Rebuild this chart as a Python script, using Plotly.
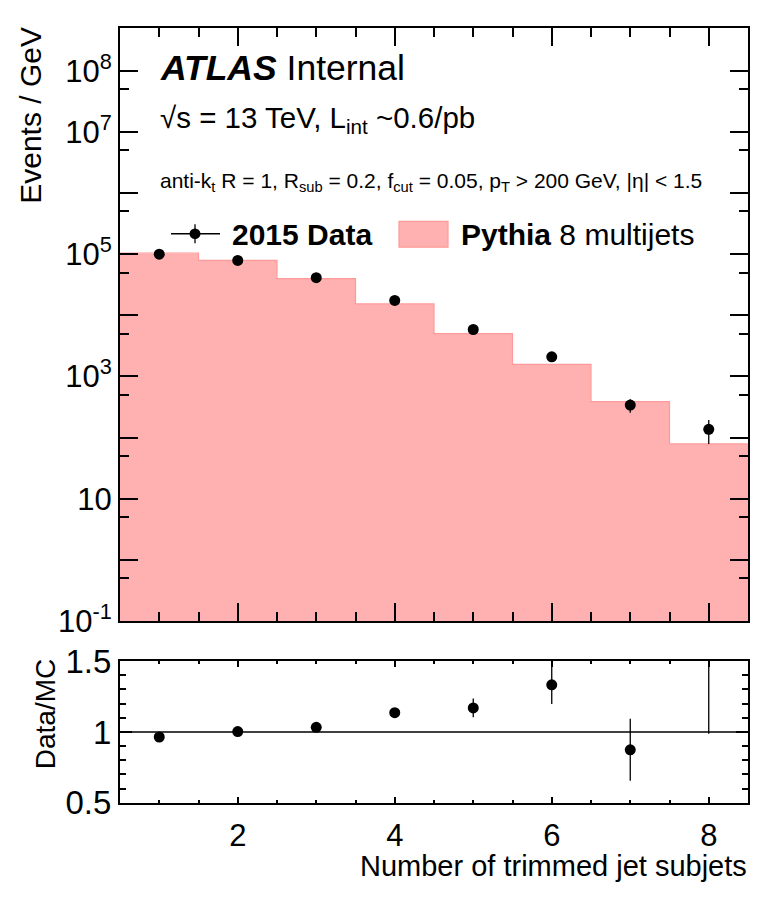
import plotly.graph_objects as go

# Trimmed-jet subjet multiplicity: 2015 data vs Pythia 8 multijet prediction
n_subjets = [1, 2, 3, 4, 5, 6, 7, 8]
data_2015 = [1.00e5, 7.9e4, 4.12e4, 1.75e4, 5.85e3, 2.09e3, 339, 136]
data_err = [320, 280, 200, 130, 330, 212, 85, 58]
pythia_mc = [1.037e5, 7.88e4, 3.99e4, 1.54e4, 5.0e3, 1.568e3, 388, 79]

main_ticks = [-1, 0, 1, 2, 3, 4, 5, 6, 7, 8]
main_ticktext = ["10<sup>-1</sup>", "", "10", "", "10<sup>3</sup>", "",
                 "10<sup>5</sup>", "", "10<sup>7</sup>", "10<sup>8</sup>"]
x_ticks = [2, 4, 6, 8]
ratio_ticks = [0.5, 1, 1.5]
ratio_ticktext = ["0.5", "1", "1.5"]

W, H = 761, 902
FONT = "Liberation Sans, Arial, Helvetica, sans-serif"
FILL = "#ffb0b0"
EDGE = "#ff9a9a"


def px(x):
    return x / W


def py(y):
    return 1 - y / H


ratio = [d / m for d, m in zip(data_2015, pythia_mc)]
ratio_err = [e / m for e, m in zip(data_err, pythia_mc)]

edges = [n - 0.5 for n in n_subjets] + [n_subjets[-1] + 0.5]
step_y = pythia_mc + [pythia_mc[-1]]

fig = go.Figure()

# MC histogram: filled bins plus the outline of the steps
fig.add_trace(go.Bar(x=n_subjets, y=pythia_mc, width=1.0, marker=dict(color=FILL, line=dict(width=0)),
                     xaxis="x", yaxis="y", hoverinfo="skip"))
fig.add_trace(go.Scatter(x=edges, y=step_y, mode="lines", line=dict(color=EDGE, width=1.2, shape="hv"),
                         xaxis="x", yaxis="y", hoverinfo="skip"))

# Data points
fig.add_trace(go.Scatter(x=n_subjets, y=data_2015, mode="markers",
                         marker=dict(color="black", size=11),
                         error_y=dict(type="data", array=data_err, color="black", thickness=1.3, width=0),
                         xaxis="x", yaxis="y"))

# Data / MC ratio
fig.add_trace(go.Scatter(x=n_subjets, y=ratio, mode="markers",
                         marker=dict(color="black", size=11),
                         error_y=dict(type="data", array=ratio_err, color="black", thickness=1.3, width=0),
                         xaxis="x2", yaxis="y2", cliponaxis=True))

x_dom = [px(120), px(748)]
minor_x = [v / 2 for v in range(2, 17) if v % 4 != 0]

axis_common = dict(showline=True, linewidth=2, linecolor="black", mirror="allticks",
                   ticks="inside", tickcolor="black", tickwidth=1.5, showgrid=False, zeroline=False)

fig.update_layout(
    width=W, height=H,
    margin=dict(l=0, r=0, t=0, b=0),
    paper_bgcolor="white", plot_bgcolor="white",
    showlegend=False, bargap=0,
    font=dict(family=FONT, color="black"),
    xaxis=dict(domain=x_dom, anchor="y", range=[0.5, 8.5], tickvals=x_ticks, showticklabels=False,
               ticklen=18, minor=dict(tickvals=minor_x, ticks="inside", ticklen=9, tickcolor="black", tickwidth=1.5),
               **axis_common),
    yaxis=dict(domain=[py(628.7), py(10)], anchor="x", type="log", range=[-1, 8.706],
               tickvals=[10 ** k for k in main_ticks], ticktext=main_ticktext,
               tickfont=dict(size=31), ticklen=18,
               minor=dict(tickvals=[5 * 10 ** k for k in main_ticks[:-1]], ticks="inside", ticklen=9,
                          tickcolor="black", tickwidth=1.5),
               **axis_common),
    xaxis2=dict(domain=x_dom, anchor="y2", range=[0.5, 8.5], tickvals=x_ticks,
                ticktext=[str(v) for v in x_ticks], tickfont=dict(size=31), ticklen=6,
                ticklabelstandoff=4,
                minor=dict(tickvals=minor_x, ticks="inside", ticklen=3, tickcolor="black", tickwidth=1.5),
                **axis_common),
    yaxis2=dict(domain=[py(818.3), py(670.7)], anchor="x2", range=[0.5, 1.5],
                tickvals=ratio_ticks, ticktext=ratio_ticktext, tickfont=dict(size=33), ticklen=12,
                minor=dict(tickvals=[0.6, 0.7, 0.8, 0.9, 1.1, 1.2, 1.3, 1.4], ticks="inside", ticklen=6,
                           tickcolor="black", tickwidth=1.5),
                **axis_common),
)

shapes = [
    # unity line in the ratio panel
    dict(type="line", xref="x2 domain", yref="y2", x0=0, x1=1, y0=1, y1=1,
         line=dict(color="black", width=1.5)),
    # legend symbols
    dict(type="line", xref="paper", yref="paper", x0=px(171), x1=px(220), y0=py(225), y1=py(225),
         line=dict(color="black", width=1.3)),
    dict(type="line", xref="paper", yref="paper", x0=px(195), x1=px(195), y0=py(215), y1=py(235),
         line=dict(color="black", width=1.3)),
    dict(type="circle", xref="paper", yref="paper", x0=px(189.5), x1=px(200.5), y0=py(219.5), y1=py(230.5),
         fillcolor="black", line=dict(color="black", width=0)),
    dict(type="rect", xref="paper", yref="paper", x0=px(399), x1=px(448), y0=py(212), y1=py(239),
         fillcolor=FILL, line=dict(color=EDGE, width=1.2)),
]
fig.update_layout(shapes=shapes)


def label(text, x, y, size, xanchor="left", angle=0):
    fig.add_annotation(text=text, x=px(x), y=py(y), xref="paper", yref="paper",
                       xanchor=xanchor, yanchor="middle", showarrow=False, textangle=angle,
                       font=dict(size=size, family=FONT, color="black"))


label("<b><i>ATLAS</i></b> Internal", 158, 52, 35.5)
label("\u221as = 13 TeV, L<sub>int</sub> ~0.6/pb", 158, 106, 29.5)
label("anti-k<sub>t</sub> R = 1, R<sub>sub</sub> = 0.2, f<sub>cut</sub> = 0.05, "
      "p<sub>T</sub> > 200 GeV, |\u03b7| < 1.5", 158, 171, 21)
label("<b>2015 Data</b>", 230, 226, 30)
label("<b>Pythia</b> 8 multijets", 459, 226, 30)
label("Events / GeV", 31, 102, 30, xanchor="center", angle=-90)
label("Data/MC", 45, 726, 28, xanchor="center", angle=-90)
label("Number of trimmed jet subjets", 749, 884, 29, xanchor="right")

# the page body keeps no margin so the figure fills the window exactly
fig.write_html("out.html", post_script="document.body.style.margin='0';")
